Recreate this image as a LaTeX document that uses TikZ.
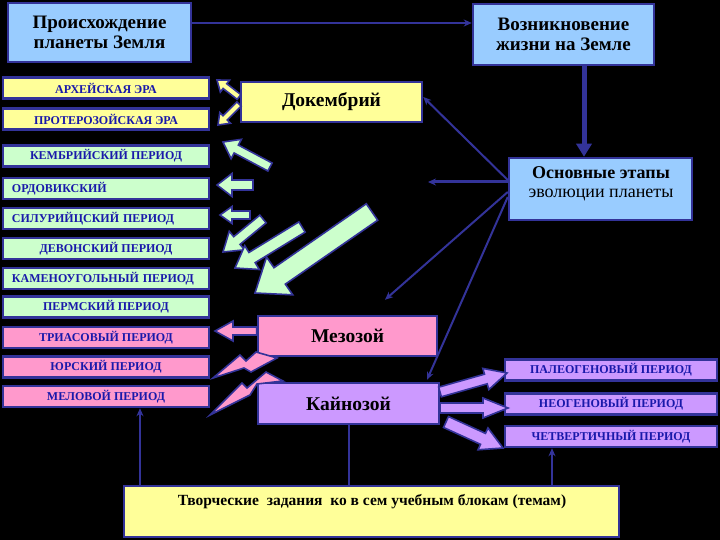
\documentclass[tikz,border=0pt]{standalone}
\usepackage{fontspec}
\setmainfont{Liberation Serif}
\usetikzlibrary{calc,arrows.meta}
\definecolor{navy}{RGB}{51,51,153}
\definecolor{lblue}{RGB}{153,204,255}
\definecolor{lyel}{RGB}{255,255,153}
\definecolor{lgreen}{RGB}{204,255,204}
\definecolor{lpink}{RGB}{255,153,204}
\definecolor{lpurp}{RGB}{204,153,255}
\definecolor{ltxt}{RGB}{25,25,170}
% fat block arrow: tail, tip, shaft half width, head half width, head length, fill
\newcommand\fatarr[6]{%
  \coordinate (fah) at ($(#2)!#5!(#1)$);
  \filldraw[fill=#6, draw=navy, line width=1.6pt, line join=miter]
    ($(#1)!#3!90:(#2)$) -- ($(fah)!#3!90:(#2)$) -- ($(fah)!#4!90:(#2)$) -- (#2)
    -- ($(fah)!#4!-90:(#2)$) -- ($(fah)!#3!-90:(#2)$) -- ($(#1)!#3!-90:(#2)$) -- cycle;}
\begin{document}
\begin{tikzpicture}[x=1pt,y=-1pt,
  box/.style={draw=navy, line width=2.5pt, inner sep=0pt, align=center},
  big/.style={box, font=\fontsize{19}{19.5}\selectfont\bfseries},
  mid/.style={box, font=\fontsize{19.5}{20}\selectfont\bfseries},
  lab/.style={box, text=ltxt, font=\fontsize{12}{13}\selectfont\bfseries, minimum width=206pt, minimum height=21pt},
  labl/.style={lab, align=left, text width=188pt, inner xsep=9pt},
  rlab/.style={lab, minimum width=212pt},
  conn/.style={draw=navy, line width=2pt, -{Stealth[length=8pt,width=7pt]}},
  plain/.style={draw=navy, line width=2pt}
]
\fill[black] (0,0) rectangle (720,540);
\useasboundingbox (0,0) rectangle (720,540);

% header boxes
\node[big, fill=lblue, minimum width=183pt, minimum height=59pt] (orig) at (99.5,32.5) {Происхождение\\планеты Земля};
\node[big, fill=lblue, minimum width=181pt, minimum height=61pt] (life) at (563.5,34.5) {Возникновение\\жизни на Земле};
\node[box, fill=lblue, minimum width=183pt, minimum height=62pt] (osn) at (600.5,189) {};
\node[align=center, font=\fontsize{18}{18.5}\selectfont] (osnt) at (601,184) {\textbf{Основные этапы}\\эволюции планеты};

% eras
\node[mid, fill=lyel, minimum width=181pt, minimum height=40pt] (dokem) at (331.5,102) {Докембрий};
\node[mid, fill=lpink, minimum width=179pt, minimum height=40pt] (mezo) at (347.5,336) {Мезозой};
\node[mid, fill=lpurp, minimum width=181pt, minimum height=41pt] (kaino) at (348.5,403.5) {Кайнозой};

% left labels
\node[lab, fill=lyel] (arch) at (106,88) {АРХЕЙСКАЯ ЭРА};
\node[lab, fill=lyel] (prot) at (106,119) {ПРОТЕРОЗОЙСКАЯ ЭРА};
\node[lab, fill=lgreen] (kemb) at (106,156) {КЕМБРИЙСКИЙ ПЕРИОД};
\node[labl, fill=lgreen] (ordo) at (106,188.5) {ОРДОВИКСКИЙ};
\node[labl, fill=lgreen] (silu) at (106,218.5) {СИЛУРИЙЦСКИЙ ПЕРИОД};
\node[lab, fill=lgreen] (devo) at (106,248.5) {ДЕВОНСКИЙ ПЕРИОД};
\node[labl, fill=lgreen] (kame) at (106,278.5) {КАМЕНОУГОЛЬНЫЙ ПЕРИОД};
\node[lab, fill=lgreen] (perm) at (106,307) {ПЕРМСКИЙ ПЕРИОД};
\node[lab, fill=lpink] (tria) at (106,337.5) {ТРИАСОВЫЙ ПЕРИОД};
\node[lab, fill=lpink] (yura) at (106,367) {ЮРСКИЙ ПЕРИОД};
\node[lab, fill=lpink] (melo) at (106,396.5) {МЕЛОВОЙ ПЕРИОД};

% right labels
\node[rlab, fill=lpurp] (paleo) at (611,370) {ПАЛЕОГЕНОВЫЙ ПЕРИОД};
\node[rlab, fill=lpurp] (neo) at (611,404) {НЕОГЕНОВЫЙ ПЕРИОД};
\node[rlab, fill=lpurp] (quat) at (611,436.5) {ЧЕТВЕРТИЧНЫЙ ПЕРИОД};

% bottom
\node[box, fill=lyel, minimum width=495pt, minimum height=51pt] (task) at (371.5,511.5) {};
\node[font=\fontsize{15.5}{17}\selectfont\bfseries] (taskt) at (372,502) {Творческие\ \ задания\ \ ко в сем учебным блокам (темам)};

% thin connectors
\draw[conn, line width=2.5pt] ([yshift=9.5pt]orig.east) -- ([yshift=11.5pt]life.west);
\draw[draw=navy, line width=5pt, -{Triangle[length=13pt,width=15pt]}] ([xshift=20.5pt]life.south) -- ([xshift=-16.5pt]osn.north);
\draw[conn] ([yshift=9pt]osn.west) -- ([yshift=5pt]dokem.east);
\coordinate (free1) at (428,182);
\draw[conn, line width=3pt] ([yshift=7pt]osn.west) -- (free1);
\draw[conn] ([yshift=-3pt]osn.west) -- ([xshift=37.5pt,yshift=15pt]mezo.north);
\draw[conn] ([yshift=-8pt]osn.west) -- ([xshift=78.5pt,yshift=2pt]kaino.north);
\draw[conn] ([xshift=34pt]melo.south |- task.north) -- ([xshift=34pt]melo.south);
\draw[plain] (kaino.south) -- (kaino.south |- task.north);
\draw[conn] ([xshift=-59pt]quat.south |- task.north) -- ([xshift=-59pt]quat.south);

% yellow arrows (Precambrian)
\coordinate (yt1) at (239,97);  \coordinate (yh1) at (217,80);
\coordinate (yt2) at (239,104); \coordinate (yh2) at (218,125);
\fatarr{yt1}{yh1}{3pt}{7.5pt}{10pt}{lyel}
\fatarr{yt2}{yh2}{3pt}{7.5pt}{10pt}{lyel}

% green arrows (Paleozoic)
\coordinate (g1t) at (270,167); \coordinate (g1h) at (223,142);
\coordinate (g2t) at (253,185); \coordinate (g2h) at (217,185);
\coordinate (g3t) at (250,215); \coordinate (g3h) at (220,215);
\coordinate (g4t) at (263,219); \coordinate (g4h) at (223,252);
\coordinate (g5t) at (302,227); \coordinate (g5h) at (235,268);
\coordinate (g6t) at (372,212); \coordinate (g6h) at (255,293);
\fatarr{g1t}{g1h}{4.5pt}{11pt}{15pt}{lgreen}
\fatarr{g2t}{g2h}{5pt}{11.5pt}{15pt}{lgreen}
\fatarr{g3t}{g3h}{4pt}{8.5pt}{12pt}{lgreen}
\fatarr{g4t}{g4h}{5pt}{12pt}{18pt}{lgreen}
\fatarr{g5t}{g5h}{6pt}{14pt}{20pt}{lgreen}
\fatarr{g6t}{g6h}{10pt}{23pt}{30pt}{lgreen}

% pink arrows (Mesozoic)
\coordinate (p1t) at (mezo.west |- 0,331); \coordinate (p1h) at (215,331);
\fatarr{p1t}{p1h}{4pt}{10pt}{18pt}{lpink}
\filldraw[fill=lpink, draw=navy, line width=1.6pt, line join=miter]
  (213,378) -- (240,355) -- (246,361) -- (256,352) -- (277,358) -- (251,372) -- (244,368) -- cycle;
\filldraw[fill=lpink, draw=navy, line width=1.6pt, line join=miter]
  (210,415) -- (242,383) -- (247,388) -- (266,372) -- (283,381) -- (257,384) -- (250,395) -- cycle;

% purple arrows (Cenozoic)
\coordinate (k1t) at (440,392); \coordinate (k1h) at (507,373);
\coordinate (k2t) at (440,408); \coordinate (k2h) at (508,408);
\coordinate (k3t) at (446,422); \coordinate (k3h) at (503,448);
\fatarr{k1t}{k1h}{5pt}{11pt}{22pt}{lpurp}
\fatarr{k2t}{k2h}{5pt}{10pt}{25pt}{lpurp}
\fatarr{k3t}{k3h}{6pt}{12pt}{22pt}{lpurp}
\end{tikzpicture}
\end{document}
